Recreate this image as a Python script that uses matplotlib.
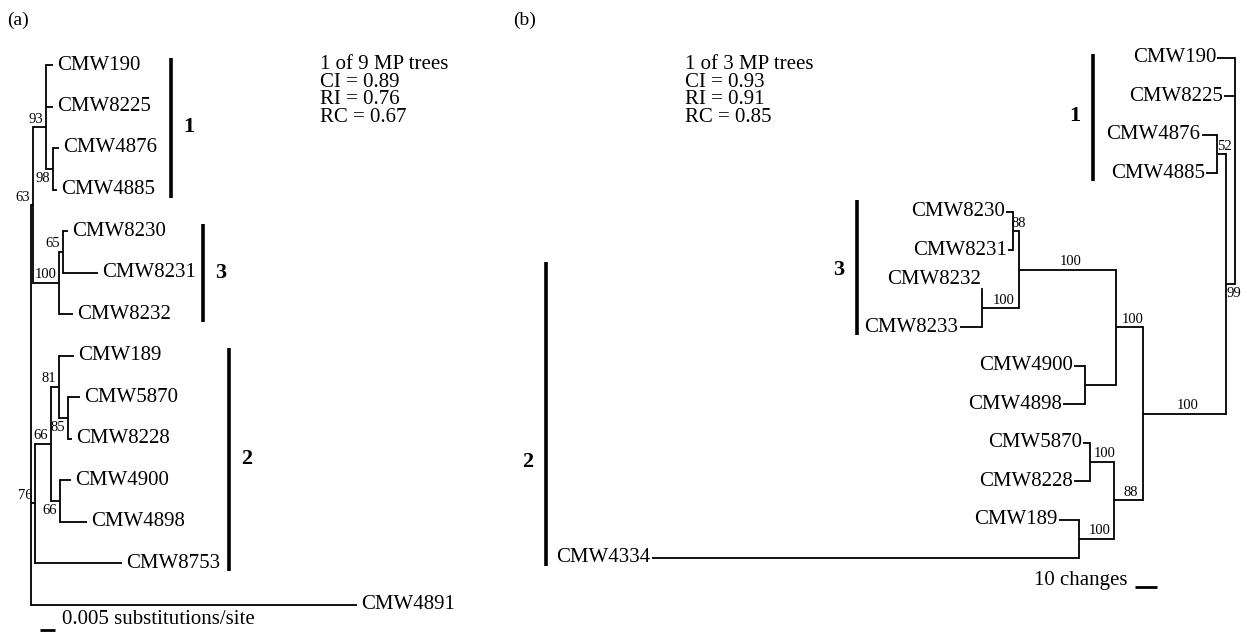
import matplotlib
matplotlib.use("Agg")
import matplotlib.pyplot as plt

plt.rcParams['font.family'] = ['Liberation Serif', 'DejaVu Serif']

# ---------------------------------------------------------------
# Arbre (a) : distances en substitutions/site
# ---------------------------------------------------------------
noeuds_a = ["racine", "n63", "n93", "CMW190", "CMW8225", "n98", "CMW4876", "CMW4885",
            "n100", "n65", "CMW8230", "CMW8231", "CMW8232",
            "n76", "n66a", "n81", "CMW189", "n85", "CMW5870", "CMW8228",
            "n66b", "CMW4900", "CMW4898", "CMW8753", "CMW4891"]
parents_a = [None, "racine", "n63", "n93", "n93", "n93", "n98", "n98",
             "n63", "n100", "n65", "n65", "n100",
             "racine", "n76", "n66a", "n81", "n81", "n85", "n85",
             "n66a", "n66b", "n66b", "n76", "racine"]
longueurs_a = [0, 0.0007, 0.0043, 0.0023, 0.0023, 0.0023, 0.0020, 0.0013,
               0.0087, 0.0013, 0.0017, 0.0117, 0.0047,
               0.0013, 0.0053, 0.0027, 0.0050, 0.0030, 0.0040, 0.0013,
               0.0030, 0.0037, 0.0090, 0.0290, 0.1087]
bootstrap_a = {"n63": 63, "n93": 93, "n98": 98, "n100": 100, "n65": 65,
               "n76": 76, "n66a": 66, "n81": 81, "n85": 85, "n66b": 66}
stats_a = ["1 of 9 MP trees", "CI = 0.89", "RI = 0.76", "RC = 0.67"]
clades_a = ["1", "3", "2"]
clades_a_premiere = ["CMW190", "CMW8230", "CMW189"]
clades_a_derniere = ["CMW4885", "CMW8232", "CMW8753"]
echelle_a = 0.005
echelle_a_texte = "0.005 substitutions/site"

# ---------------------------------------------------------------
# Arbre (b) : longueurs en nombre de changements
# ---------------------------------------------------------------
noeuds_b = ["racine", "CMW190", "CMW8225", "n99", "n52", "CMW4876", "CMW4885",
            "nB", "nC", "nE", "n88", "CMW8230", "CMW8231", "n100c", "CMW8232", "CMW8233",
            "nF", "CMW4900", "CMW4898", "nD", "n100d", "CMW5870", "CMW8228",
            "n100e", "CMW189", "CMW4334"]
parents_b = [None, "racine", "racine", "racine", "n99", "n52", "n52",
             "n99", "nB", "nC", "nE", "n88", "n88", "nE", "n100c", "n100c",
             "nC", "nF", "nF", "nB", "nD", "n100d", "n100d",
             "nD", "n100e", "n100e"]
longueurs_b = [0, 8, 5, 4, 4, 7, 5,
               38, 12, 44, 3, 3, 2, 17, 0, 10,
               14, 5, 10, 13, 11, 3, 7,
               16, 9, 194]
bootstrap_b = {"n99": 99, "n52": 52, "nB": 100, "nC": 100, "nE": 100, "n88": 88,
               "n100c": 100, "nD": 88, "n100d": 100, "n100e": 100}
stats_b = ["1 of 3 MP trees", "CI = 0.93", "RI = 0.91", "RC = 0.85"]
clades_b = ["1", "3", "2"]
clades_b_premiere = ["CMW190", "CMW8230", "CMW4900"]
clades_b_derniere = ["CMW4885", "CMW8233", "CMW4334"]
clades_b_debut_barre = [-0.1, 3.7, 5.3]   # en rangées
echelle_b = 10
echelle_b_texte = "10 changes"

# ---------------------------------------------------------------
# Mise en page (pixels de la figure 1247 x 633)
# ---------------------------------------------------------------
L, H = 1247, 633
TAILLE_NOM = 15
TAILLE_BOOT = 10.5
LW = 1.3


def construire_arbre(noeuds, parents, longueurs):
    """Calcule profondeur, enfants et position verticale (rangée) de chaque noeud"""
    enfants = {n: [] for n in noeuds}
    profondeur = {}
    for n, p, l in zip(noeuds, parents, longueurs):
        if p is None:
            profondeur[n] = 0.0
        else:
            enfants[p].append(n)
            profondeur[n] = profondeur[p] + l
    feuilles = []
    y = {}
    bornes = {}

    def parcours(n):
        if not enfants[n]:
            y[n] = len(feuilles)
            bornes[n] = (y[n], y[n])
            feuilles.append(n)
            return
        for e in enfants[n]:
            parcours(e)
        bornes[n] = (bornes[enfants[n][0]][0], bornes[enfants[n][-1]][1])
        if len(enfants[n]) > 2:
            # polytomie : milieu des feuilles extrêmes
            y[n] = sum(bornes[n]) / 2.0
        else:
            y[n] = (y[enfants[n][0]] + y[enfants[n][-1]]) / 2.0

    parcours(noeuds[0])
    parent = dict(zip(noeuds, parents))
    return enfants, profondeur, y, feuilles, parent


def tracer_arbre(ax, noeuds, parents, longueurs, bootstrap, dessous, sens, decalage_noms=None):
    decalage_noms = decalage_noms or {}
    enfants, prof, y, feuilles, parent = construire_arbre(noeuds, parents, longueurs)
    for n in noeuds:
        p = parent[n]
        if p is not None and prof[n] != prof[p]:
            ax.plot([prof[p], prof[n]], [y[n], y[n]], color='black', lw=LW,
                    solid_capstyle='butt')
        if enfants[n]:
            ax.plot([prof[n], prof[n]], [y[enfants[n][0]], y[enfants[n][-1]]],
                    color='black', lw=LW, solid_capstyle='projecting')
    # noms des souches
    for f in feuilles:
        dy = decalage_noms.get(f, 0)
        if sens > 0:
            ax.annotate(f, (prof[f], y[f]), xytext=(3, dy), textcoords='offset points',
                        ha='left', va='center', fontsize=TAILLE_NOM)
        else:
            ax.annotate(f, (prof[f], y[f]), xytext=(-1, dy), textcoords='offset points',
                        ha='right', va='center', fontsize=TAILLE_NOM)
    # valeurs de bootstrap
    for n, val in bootstrap.items():
        dy = -2 if n in dessous else 1
        va = 'top' if n in dessous else 'bottom'
        if sens > 0:
            ax.annotate(str(val), (prof[n], y[n]), xytext=(-2, dy), textcoords='offset points',
                        ha='right', va=va, fontsize=TAILLE_BOOT)
        else:
            xm = (prof[n] + prof[parent[n]]) / 2.0
            ax.annotate(str(val), (xm, y[n]), xytext=(2, dy), textcoords='offset points',
                        ha='center', va=va, fontsize=TAILLE_BOOT)
    return y, prof


fig = plt.figure(figsize=(L / 100, H / 100), dpi=100)

# ---- panneau (a) : racine à gauche
PX0_A, PXU_A, Y0_A, PAS_A = 31, 3000.0, 65, 41.5
ax_a = fig.add_axes([0, 0, 1, 1])
ax_a.set_xlim(-PX0_A / PXU_A, (L - PX0_A) / PXU_A)
ax_a.set_ylim((H - Y0_A) / PAS_A, -Y0_A / PAS_A)
ax_a.axis('off')
ax_a.patch.set_alpha(0)
y_a, prof_a = tracer_arbre(ax_a, noeuds_a, parents_a, longueurs_a, bootstrap_a,
                           {"n98", "n85", "n66b"}, +1)

barres_x_a = [171, 203, 229]
for nom, deb, fin, bx in zip(clades_a, clades_a_premiere, clades_a_derniere, barres_x_a):
    xd = (bx - PX0_A) / PXU_A
    ax_a.plot([xd, xd], [y_a[deb] - 0.17, y_a[fin] + 0.2], color='black', lw=2.6,
              solid_capstyle='butt')
    ax_a.text((bx + 18 - PX0_A) / PXU_A, (y_a[deb] + y_a[fin]) / 2.0, nom,
              fontsize=16, fontweight='bold', ha='center', va='center')

# barre d'échelle (a)
xe = (40 - PX0_A) / PXU_A
ye = (630 - Y0_A) / PAS_A
ax_a.plot([xe, xe + echelle_a], [ye, ye], color='black', lw=2, solid_capstyle='butt')
fig.text(62 / L, 1 - 620 / H, echelle_a_texte, fontsize=TAILLE_NOM, ha='left', va='center')

# ---- panneau (b) : racine à droite
PX0_B, PXU_B, Y0_B, PAS_B = 1235, 2.2, 58, 38.46
ax_b = fig.add_axes([0, 0, 1, 1])
ax_b.set_xlim(PX0_B / PXU_B, (PX0_B - L) / PXU_B)
ax_b.set_ylim((H - Y0_B) / PAS_B, -Y0_B / PAS_B)
ax_b.axis('off')
ax_b.patch.set_alpha(0)
y_b, prof_b = tracer_arbre(ax_b, noeuds_b, parents_b, longueurs_b, bootstrap_b,
                           {"n99"}, -1, decalage_noms={"CMW8232": 7})

barres_x_b = [1093, 857, 546]
for nom, deb, fin, d0, bx in zip(clades_b, clades_b_premiere, clades_b_derniere,
                                 clades_b_debut_barre, barres_x_b):
    xd = (PX0_B - bx) / PXU_B
    ax_b.plot([xd, xd], [d0, y_b[fin] + 0.2], color='black', lw=2.6, solid_capstyle='butt')
    ax_b.text((PX0_B - bx + 18) / PXU_B, (y_b[deb] + y_b[fin]) / 2.0, nom,
              fontsize=16, fontweight='bold', ha='center', va='center')

# barre d'échelle (b)
xe = (PX0_B - 1135) / PXU_B
ye = (587 - Y0_B) / PAS_B
ax_b.plot([xe, xe - echelle_b], [ye, ye], color='black', lw=2, solid_capstyle='butt')
fig.text(1127 / L, 1 - 580 / H, echelle_b_texte, fontsize=TAILLE_NOM, ha='right', va='center')

# ---- textes : statistiques et lettres des panneaux
fig.text(320 / L, 1 - 55 / H, "\n".join(stats_a), fontsize=TAILLE_NOM, ha='left', va='top',
         linespacing=0.9)
fig.text(685 / L, 1 - 55 / H, "\n".join(stats_b), fontsize=TAILLE_NOM, ha='left', va='top',
         linespacing=0.9)
fig.text(7 / L, 1 - 20 / H, "(a)", fontsize=14, ha='left', va='center')
fig.text(513 / L, 1 - 20 / H, "(b)", fontsize=14, ha='left', va='center')

fig.savefig("out.png", dpi=100)
